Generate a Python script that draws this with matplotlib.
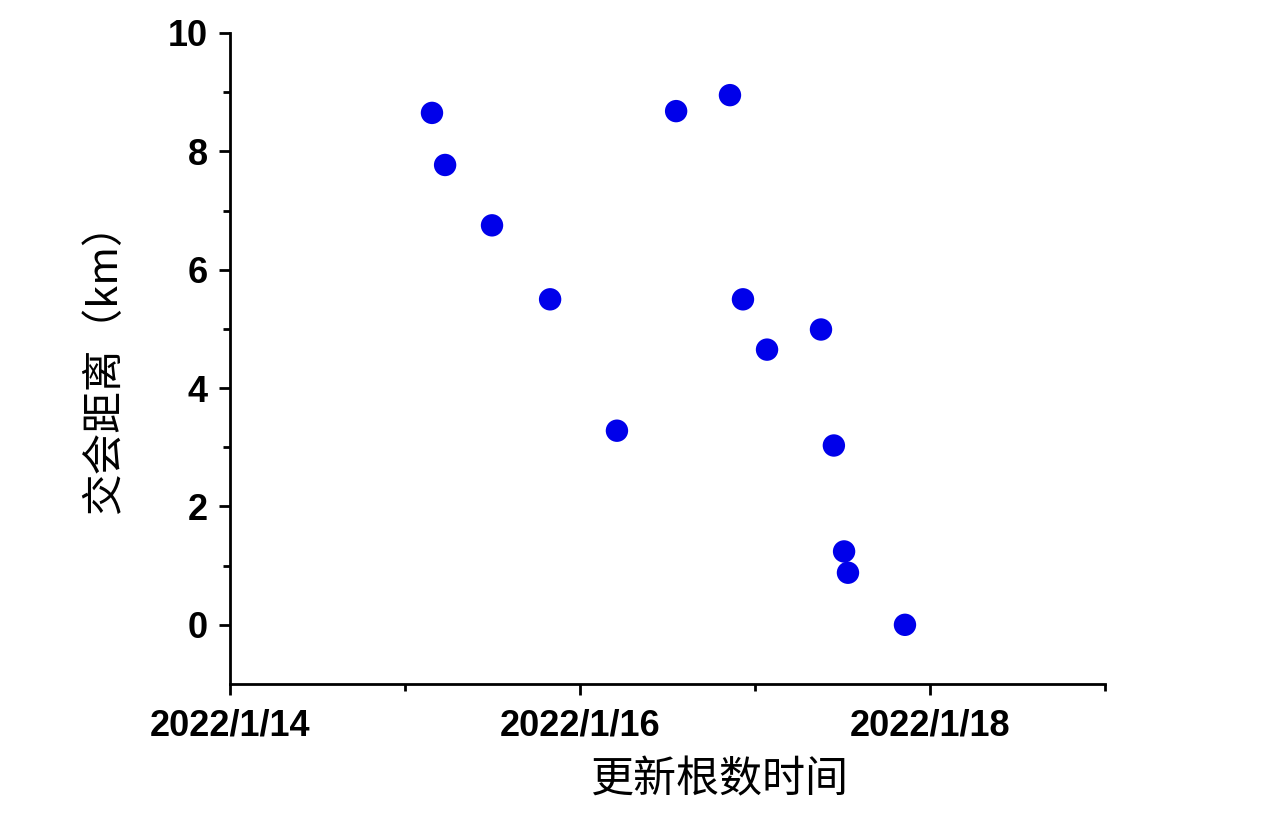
import matplotlib
matplotlib.use("Agg")
import matplotlib.pyplot as plt
import matplotlib.dates as mdates
import pandas as pd

times = ["2022-01-15 03:42", "2022-01-15 05:30", "2022-01-15 11:56", "2022-01-15 19:54",
         "2022-01-16 05:04", "2022-01-16 13:11", "2022-01-16 20:34", "2022-01-16 22:21",
         "2022-01-17 01:39", "2022-01-17 09:03", "2022-01-17 10:49", "2022-01-17 12:13",
         "2022-01-17 12:45", "2022-01-17 20:34"]
distance_km = [8.65, 7.77, 6.75, 5.50, 3.28, 8.68, 8.95, 5.50, 4.65, 4.99, 3.03, 1.24, 0.88, 0.0]
major_dates = ["2022-01-14", "2022-01-16", "2022-01-18"]
major_labels = ["2022/1/14", "2022/1/16", "2022/1/18"]
minor_dates = ["2022-01-15", "2022-01-17", "2022-01-19"]
yticks = [0, 2, 4, 6, 8, 10]
xlabel = "更新根数时间"
ylabel = "交会距离（km）"

x = pd.to_datetime(times)
fig = plt.figure(figsize=(12.82, 8.32), dpi=100)
ax = fig.add_axes([230/1282, 1-684/832, (1105-230)/1282, (684-33)/832])
ax.scatter(x, distance_km, s=260, color="#0000ea", edgecolors="none", zorder=3)

ax.set_xlim(pd.Timestamp("2022-01-14"), pd.Timestamp("2022-01-19"))
ax.set_ylim(-1, 10)
ax.set_xticks(mdates.date2num(pd.to_datetime(major_dates)))
ax.set_xticklabels(major_labels)
ax.set_xticks(mdates.date2num(pd.to_datetime(minor_dates)), minor=True)
ax.set_yticks(yticks)
ax.set_yticks([1, 3, 5, 7, 9], minor=True)

for s in ["top", "right"]:
    ax.spines[s].set_visible(False)
for s in ["left", "bottom"]:
    ax.spines[s].set_linewidth(2)

ax.tick_params(which="major", direction="out", length=8, width=2, pad=8)
ax.tick_params(axis="x", which="major", pad=10)
ax.tick_params(which="minor", direction="out", length=5, width=2)
for lab in ax.get_xticklabels() + ax.get_yticklabels():
    lab.set_fontfamily(["Liberation Sans", "DejaVu Sans"])
    lab.set_fontweight("bold")
    lab.set_fontsize(26)

ax.set_xlabel(xlabel, fontsize=31, family=["Noto Sans CJK SC", "DejaVu Sans"])
ax.set_ylabel(ylabel, fontsize=30, family=["Noto Sans CJK SC", "DejaVu Sans"])
ax.xaxis.set_label_coords(0.56, -0.115)
ax.yaxis.set_label_coords(-0.12, 0.50)

fig.savefig("out.png", dpi=100)
